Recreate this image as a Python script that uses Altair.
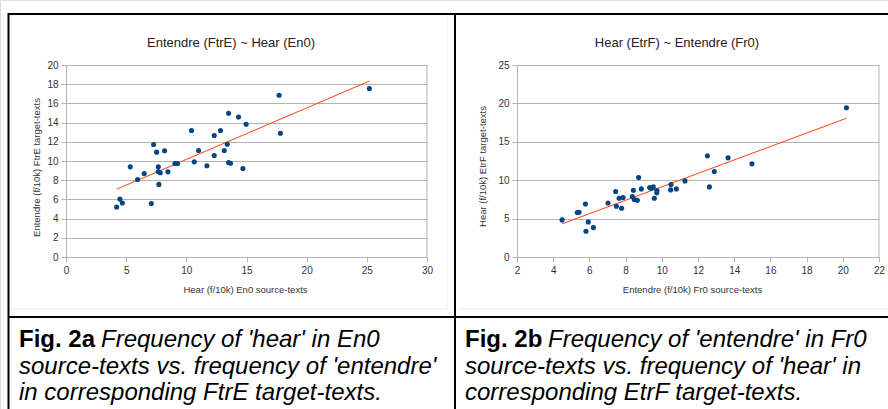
import altair as alt
import pandas as pd

# ---------------- data ----------------
a_x = [4.21, 4.48, 4.68, 5.34, 5.95, 6.50, 7.09, 7.28, 7.53, 7.67, 7.72, 7.67, 7.83, 8.19,
       8.47, 9.05, 9.27, 10.43, 10.66, 11.02, 11.71, 12.32, 12.32, 12.84, 13.15, 13.40,
       13.51, 13.51, 13.67, 14.34, 14.70, 14.97, 17.71, 17.82, 25.21]
a_y = [5.20, 6.03, 5.62, 9.39, 8.08, 8.70, 5.58, 11.72, 10.92, 9.39, 7.56, 8.91, 8.77, 11.06,
       8.87, 9.74, 9.74, 13.17, 9.91, 11.09, 9.50, 12.65, 10.57, 13.17, 11.09, 11.75,
       14.97, 9.84, 9.77, 14.59, 9.22, 13.83, 16.85, 12.89, 17.54]

b_x = [4.49, 5.33, 5.43, 5.78, 5.81, 5.94, 6.22, 7.03, 7.45, 7.49, 7.64, 7.78, 7.86, 8.37,
       8.43, 8.48, 8.65, 8.72, 8.87, 9.33, 9.42, 9.53, 9.59, 9.73, 9.72, 10.49, 10.51,
       10.80, 11.28, 12.52, 12.63, 12.90, 13.66, 14.98, 20.20]
b_y = [4.83, 5.78, 5.83, 6.91, 3.35, 4.57, 3.83, 7.04, 8.52, 6.61, 7.65, 6.35, 7.74, 7.87,
       8.70, 7.48, 7.39, 10.35, 8.87, 9.04, 8.96, 9.13, 7.65, 8.65, 8.35, 8.74, 9.43,
       8.87, 9.91, 13.17, 9.13, 11.13, 12.91, 12.13, 19.43]

a_xticks = [0, 5, 10, 15, 20, 25, 30]
a_yticks = [0, 2, 4, 6, 8, 10, 12, 14, 16, 18, 20]
b_xticks = [2, 4, 6, 8, 10, 12, 14, 16, 18, 20, 22]
b_yticks = [0, 5, 10, 15, 20, 25]

a_title = "Entendre (FtrE) ~ Hear (En0)"
b_title = "Hear (EtrF) ~ Entendre (Fr0)"
a_xtitle = "Hear (f/10k) En0 source-texts"
a_ytitle = "Entendre (f/10k) FtrE target-texts"
b_xtitle = "Entendre (f/10k) Fr0 source-texts"
b_ytitle = "Hear (f/10k) EtrF target-texts"

a_cap_bold = "Fig. 2a"
a_cap_lines = ["Frequency of 'hear' in En0",
               "source-texts vs. frequency of 'entendre'",
               "in corresponding FtrE target-texts."]
b_cap_bold = "Fig. 2b"
b_cap_lines = ["Frequency of 'entendre' in Fr0",
               "source-texts vs. frequency of 'hear' in",
               "corresponding EtrF target-texts."]

# ---------------- style ----------------
FONT = "Liberation Sans"
GRID = "#b3b3b3"
PT = "#004586"
TREND = "#ff420e"
LBL = "#333333"
H = 409
AXIS_Y = 257


def panel(xs, ys, xdom, xrange, ydom, yticks, xticks, xtitle, ytitle,
          xtitle_x, ytitle_x, ytitle_y):
    df = pd.DataFrame({"x": xs, "y": ys})
    xscale = alt.Scale(domain=xdom, range=xrange, nice=False, zero=False)
    yscale = alt.Scale(domain=ydom, range=[AXIS_Y, 65], nice=False, zero=False)
    common = dict(domainColor=GRID, tickColor=GRID, tickSize=5, labelPadding=3,
                  labelFontSize=10, labelColor=LBL, labelFont=FONT,
                  titleFont=FONT, titleFontSize=9.5, titleFontWeight="normal",
                  titleColor=LBL, labelFlush=False, labelOverlap=False,
                  domainWidth=1, tickWidth=1)
    xaxis = alt.Axis(orient="bottom", offset=AXIS_Y - H, values=xticks, grid=False,
                     title=xtitle, titleX=xtitle_x, titleY=35, titleAlign="center",
                     titleBaseline="alphabetic", **common)
    yaxis = alt.Axis(orient="left", offset=-xrange[0], values=yticks, grid=True,
                     gridColor=GRID, gridWidth=1, title=ytitle,
                     titleX=ytitle_x - xrange[0], titleY=ytitle_y, titleAngle=270,
                     titleAlign="center", titleBaseline="middle", **common)
    pts = alt.Chart(df).mark_circle(size=26, color=PT, opacity=1).encode(
        x=alt.X("x:Q", scale=xscale, axis=xaxis, title=xtitle),
        y=alt.Y("y:Q", scale=yscale, axis=yaxis, title=ytitle),
    )
    trend = alt.Chart(df).transform_regression("x", "y").mark_line(
        color=TREND, strokeWidth=1).encode(
        x=alt.X("x:Q", scale=xscale, axis=xaxis, title=xtitle),
        y=alt.Y("y:Q", scale=yscale, axis=yaxis, title=ytitle),
    )
    edge = alt.Chart(pd.DataFrame({"k": [0]})).mark_rule(color=GRID, strokeWidth=1).encode(
        x=alt.XDatum(xdom[1], scale=xscale, axis=xaxis, title=xtitle),
        y=alt.YDatum(ydom[0], scale=yscale, axis=yaxis, title=ytitle),
        y2=alt.Y2Datum(ydom[1]),
    )
    return alt.layer(edge, trend, pts)


pa = panel(a_x, a_y, [0, 30], [66, 427], [0, 20], a_yticks, a_xticks,
           a_xtitle, a_ytitle, 245, 36, 167)
pb = panel(b_x, b_y, [2, 22], [517, 879], [0, 25], b_yticks, b_xticks,
           b_xtitle, b_ytitle, 692, 482, 166)

one = pd.DataFrame({"k": [0]})


def txt(t, x, y, size, color="#000000", weight="normal", style="normal",
        align="left", baseline="alphabetic"):
    return alt.Chart(one).mark_text(
        text=t, font=FONT, fontSize=size, fontWeight=weight, fontStyle=style,
        color=color, align=align, baseline=baseline,
    ).encode(x=alt.value(x), y=alt.value(y))


def rule(x1, x2, y1, y2, color="#000000", w=2):
    return alt.Chart(one).mark_rule(color=color, strokeWidth=w).encode(
        x=alt.value(x1), x2=alt.value(x2), y=alt.value(y1), y2=alt.value(y2))


decor = [
    # faint chart object frames
    rule(12, 447, 309, 309, "#eeeeee", 1),
    rule(447, 447, 16, 309, "#eeeeee", 1),
    rule(459, 888, 309, 309, "#eeeeee", 1),
    # chart titles
    txt(a_title, 231, 46.5, 13, "#222222", align="center"),
    txt(b_title, 677, 46.5, 13, "#222222", align="center"),
    # table borders
    rule(8, 888, 14, 14),
    rule(8.5, 8.5, 13, 409),
    rule(455, 455, 13, 409),
    rule(8, 888, 317, 317),
]

CAP = 24
LINE_Y = [347, 373.5, 400]
caps = [
    txt(a_cap_bold, 19, LINE_Y[0], CAP, weight="bold"),
    txt(a_cap_lines[0], 101, LINE_Y[0], CAP, style="italic"),
    txt(a_cap_lines[1], 19, LINE_Y[1], CAP, style="italic"),
    txt(a_cap_lines[2], 19, LINE_Y[2], CAP, style="italic"),
    txt(b_cap_bold, 465, LINE_Y[0], CAP, weight="bold"),
    txt(b_cap_lines[0], 548, LINE_Y[0], CAP, style="italic"),
    txt(b_cap_lines[1], 465, LINE_Y[1], CAP, style="italic"),
    txt(b_cap_lines[2], 465, LINE_Y[2], CAP, style="italic"),
]

chart = alt.layer(pa, pb, *decor, *caps).resolve_scale(
    x="independent", y="independent"
).properties(
    width=888, height=409, autosize="none", padding=0, background="white"
).configure_view(stroke=None).configure(font=FONT)

chart.save("out.html", embed_options={"renderer": "svg", "actions": False})
